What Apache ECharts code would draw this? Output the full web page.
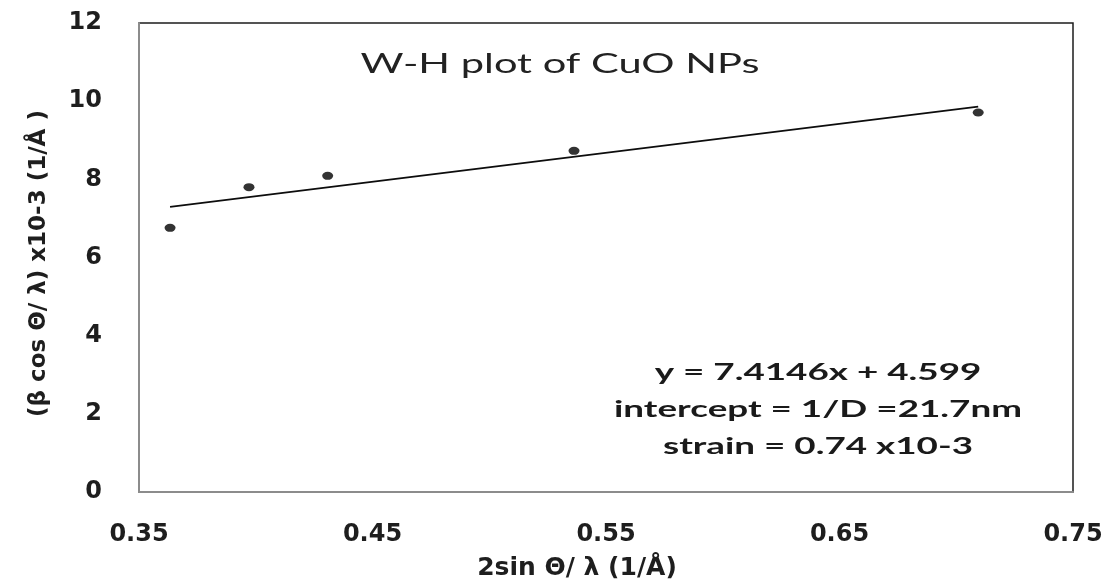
<!DOCTYPE html>
<html>
<head>
<meta charset="utf-8">
<script src="https://cdn.jsdelivr.net/npm/echarts@6/dist/echarts.min.js"></script>
<style>
  html, body { margin: 0; padding: 0; background: #ffffff; }
  #chart { width: 1111px; height: 586px; }
</style>
</head>
<body>
<div id="chart"></div>
<script>
// Williamson–Hall points: 2sinΘ/λ (1/Å) against βcosΘ/λ ×10-3 (1/Å)
const sinTerm = [0.3633, 0.3971, 0.4308, 0.5363, 0.7094];
const cosTerm = [6.76, 7.80, 8.09, 8.73, 9.71];

// Linear fit through the points: y = fitSlope·x + fitIntercept
const fitSlope = 7.4146;
const fitIntercept = 4.599;

// Axis tick values
const xTicks = [0.35, 0.45, 0.55, 0.65, 0.75];
const yTicks = [0, 2, 4, 6, 8, 10, 12];

// Text blocks
const titleText = 'W-H plot of CuO NPs';
const fitLabels = ['y = 7.4146x + 4.599', 'intercept = 1/D =21.7nm', 'strain = 0.74 x10-3'];
const xName = '2sin \u0398/ \u03bb (1/\u00c5)';
const yName = '(\u03b2 cos \u0398/ \u03bb) x10-3 (1/\u00c5 )';

const points = sinTerm.map((x, i) => [x, cosTerm[i]]);
const fitEnds = [Math.min(...sinTerm), Math.max(...sinTerm)];
const fitLine = fitEnds.map(x => [x, fitSlope * x + fitIntercept]);

const textColor = '#1e1e1e';
const tickFont = { fontFamily: 'DejaVu Sans', fontWeight: 'bold', fontSize: 24, color: textColor };

const chart = echarts.init(document.getElementById('chart'), null, { renderer: 'canvas' });

chart.setOption({
  backgroundColor: '#ffffff',
  animation: false,
  grid: {
    left: 139, right: 38, top: 23, bottom: 91,
    show: true,
    borderColor: '#1c1c1c',
    borderWidth: 1.5,
    backgroundColor: '#ffffff'
  },
  xAxis: {
    type: 'value',
    min: xTicks[0],
    max: xTicks[xTicks.length - 1],
    name: xName,
    nameLocation: 'middle',
    nameGap: 64,
    nameTextStyle: {
      fontFamily: 'DejaVu Sans', fontWeight: 'bold', fontSize: 25, color: textColor,
      padding: [0, 58, 0, 0]
    },
    axisLine: { show: true, onZero: false, lineStyle: { color: '#8c8c8c', width: 2 } },
    axisTick: { show: false },
    splitLine: { show: false },
    axisLabel: Object.assign({
      margin: 31,
      customValues: xTicks,
      formatter: v => v.toFixed(2)
    }, tickFont)
  },
  yAxis: {
    type: 'value',
    min: yTicks[0],
    max: yTicks[yTicks.length - 1],
    interval: yTicks[1] - yTicks[0],
    name: yName,
    nameLocation: 'middle',
    nameRotate: 90,
    nameGap: 88,
    nameTextStyle: {
      fontFamily: 'DejaVu Sans', fontWeight: 'bold', fontSize: 23, color: textColor,
      padding: [0, 12, 0, 0]
    },
    axisLine: { show: true, lineStyle: { color: '#8c8c8c', width: 2 } },
    axisTick: { show: false },
    splitLine: { show: false },
    axisLabel: Object.assign({ margin: 37 }, tickFont)
  },
  graphic: [
    {
      type: 'text',
      x: 560, y: 65,
      scaleX: 1.6,
      style: {
        text: titleText,
        fontFamily: 'Lato', fontSize: 26, fontWeight: 'normal',
        fill: '#222222',
        textAlign: 'center', textVerticalAlign: 'middle'
      },
      z: 10
    },
    {
      type: 'text',
      x: 818, y: 410,
      scaleX: 1.6,
      style: {
        text: fitLabels.join('\n'),
        fontFamily: 'Lato', fontSize: 23, fontWeight: 'bold',
        lineHeight: 37,
        fill: '#1a1a1a',
        textAlign: 'center', textVerticalAlign: 'middle'
      },
      z: 10
    }
  ],
  series: [
    {
      name: 'fit',
      type: 'line',
      data: fitLine,
      symbol: 'none',
      lineStyle: { color: '#0d0d0d', width: 1.8 },
      silent: true,
      z: 2
    },
    {
      name: 'points',
      type: 'scatter',
      data: points,
      symbol: 'circle',
      symbolSize: [11, 8],
      itemStyle: { color: '#000000' },
      z: 3
    }
  ]
});
</script>
</body>
</html>
